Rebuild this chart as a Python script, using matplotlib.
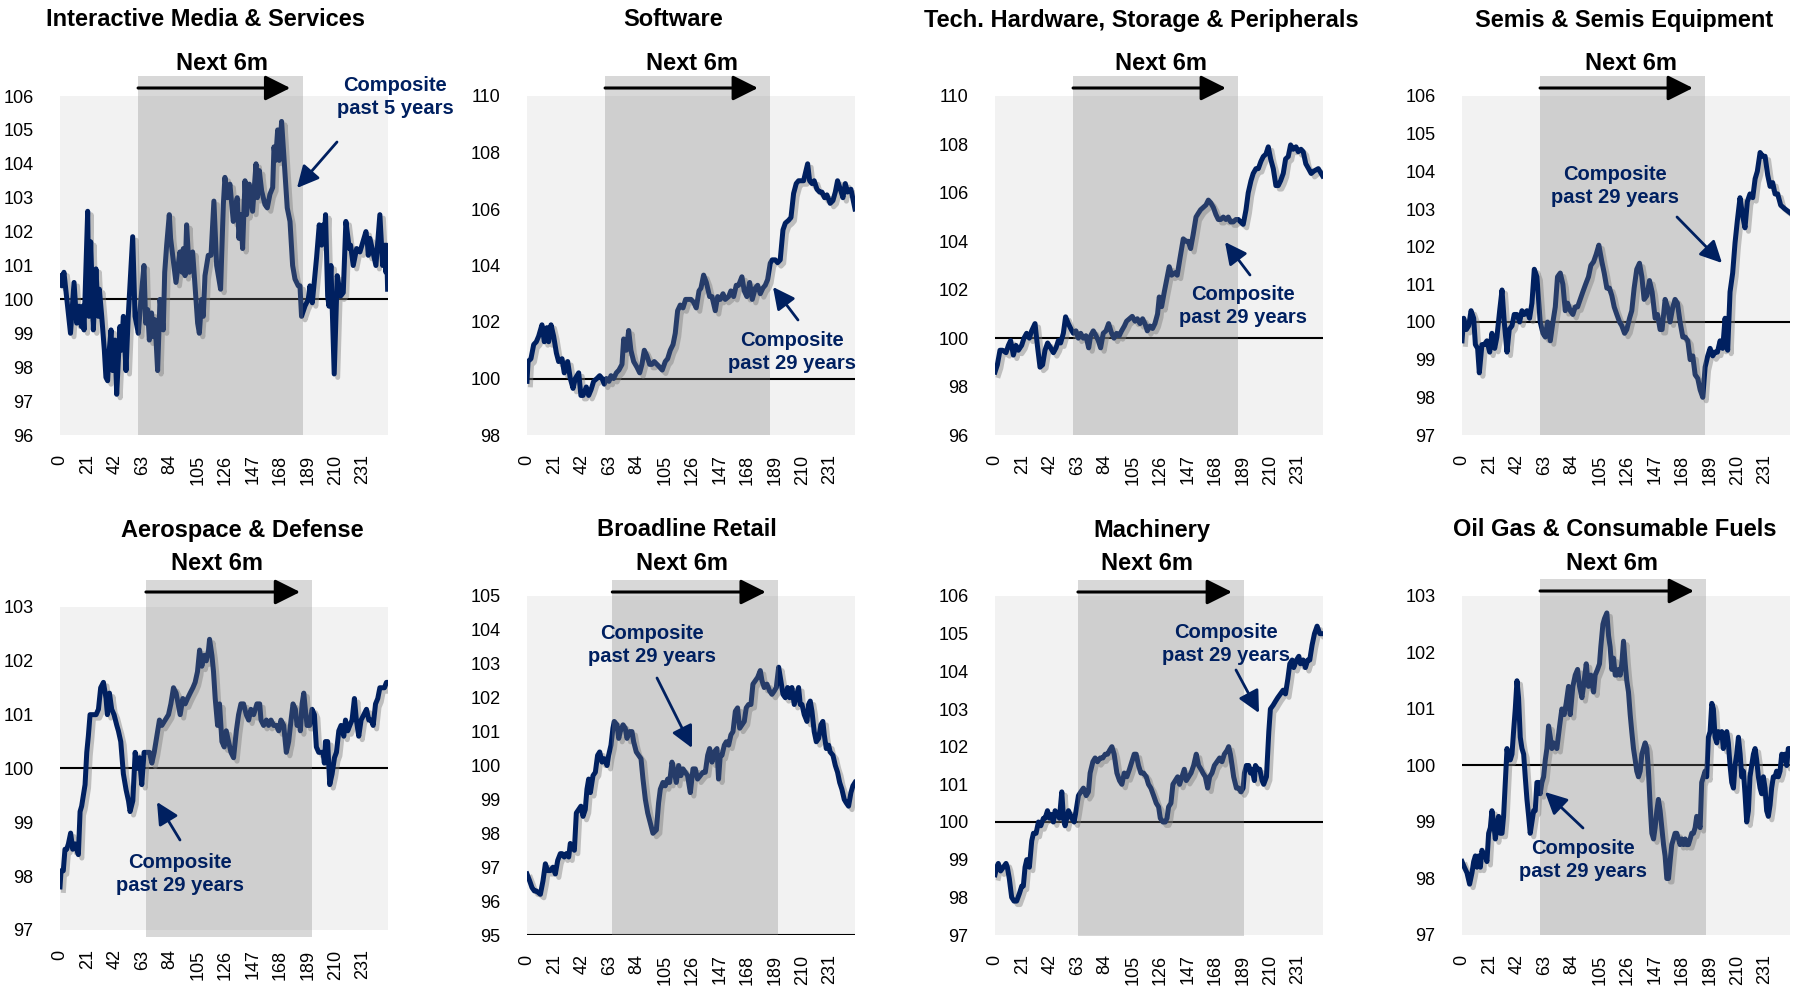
import matplotlib.pyplot as plt
import matplotlib.patheffects as pe
from matplotlib.patches import Rectangle
from matplotlib.transforms import blended_transform_factory

# ---- data (day index after signal, composite level) ----
titles = ['Interactive Media & Services', 'Software', 'Tech. Hardware, Storage & Peripherals',
          'Semis & Semis Equipment', 'Aerospace & Defense', 'Broadline Retail', 'Machinery',
          'Oil Gas & Consumable Fuels']
notes = ['Composite\npast 5 years'] + ['Composite\npast 29 years'] * 7
xticks = [0, 21, 42, 63, 84, 105, 126, 147, 168, 189, 210, 231]

ims_day = [0, 1.3, 3, 8, 10.7, 12.7, 14.5, 16.3, 17.3, 18.3, 21.1, 22.1, 23.4, 25.4, 27.4, 29.2, 30, 31.8, 33.8, 35,
           36.3, 37.3, 38.9, 40.1, 41.9, 43.2, 45.7, 46.7, 48.3, 50.3, 52, 55.4, 57.2, 59.7, 61.7, 64, 65.3, 66.8, 68.1, 69.8,
           71.1, 72.4, 74.4, 76.2, 78.7, 79.8, 81.3, 83.3, 84.3, 88.4, 91.4, 93, 94, 95.3, 96.5, 98.6, 101.1, 104.9, 106.2, 108,
           109.2, 110.5, 113, 115.1, 117.3, 119.4, 122.4, 124.5, 125.7, 127.5, 129.5, 132.1, 133.4, 135.1, 136.4, 137.7, 139.2, 141, 142.2, 144.3,
           146.8, 149.4, 150.4, 151.9, 153.7, 156.2, 158, 160, 162.1, 163.1, 164.3, 165.9, 167.1, 168.9, 170.7, 173.2, 175.3, 177.3, 179.1, 181.6,
           182.9, 184.1, 186.7, 189.2, 190.5, 192.3, 195.6, 197.6, 199.4, 200.7, 201.4, 202.4, 204, 205, 206.5, 209, 211.3, 213.9, 215.9, 217.9,
           220.5, 221.5, 223.5, 226.1, 228.6, 233.2, 234.2, 235, 236.2, 240.8, 242.6, 243.8, 245.9, 247.6, 248.4, 248.9, 249.7]
ims_val = [100.7, 100.4, 100.8, 99.0, 100.5, 99.3, 99.8, 99.2, 99.8, 99.1, 102.6, 99.5, 101.7, 99.1, 100.9, 99.5, 100.3, 99.5, 98.5, 97.7,
           97.6, 98.4, 99.1, 97.9, 98.8, 97.2, 99.2, 98.5, 99.5, 97.9, 99.5, 101.85, 99.5, 99.0, 100.0, 101.0, 99.3, 99.7, 98.8, 99.6,
           98.9, 99.4, 97.9, 100.0, 99.1, 100.8, 101.6, 102.5, 101.8, 100.5, 101.4, 100.8, 101.5, 100.7, 102.2, 100.8, 101.4, 99.3, 99.0, 100.0,
           99.5, 100.7, 101.3, 101.3, 102.9, 101.0, 100.3, 102.8, 103.6, 103.0, 103.4, 102.3, 102.7, 103.0, 101.8, 102.5, 101.5, 103.5, 102.5, 103.4,
           102.6, 104.0, 103.0, 103.8, 103.2, 102.8, 102.7, 103.1, 103.3, 104.5, 104.1, 105.0, 104.1, 105.25, 104.2, 102.7, 102.3, 101.0, 100.6, 100.4,
           100.4, 99.5, 99.8, 100.0, 100.4, 99.9, 101.25, 102.2, 101.6, 102.2, 101.7, 102.5, 100.1, 99.8, 101.0, 97.8, 100.7, 100.1, 100.2, 102.3,
           101.5, 101.6, 101.0, 101.5, 101.4, 102.0, 101.7, 101.3, 101.8, 101.0, 101.9, 102.5, 101.0, 101.6, 100.8, 101.6, 100.3]

sw_day = [0, 0.8, 3, 5.1, 7.1, 8.9, 11.4, 13.2, 15.2, 16.5, 18.3, 20.3, 22.4, 24.1, 26.7, 28.4, 31, 33, 35.1, 36.8,
          39.4, 41.1, 42.7, 45.2, 47, 48.8, 50.8, 53.3, 55.4, 57.2, 58.9, 60.5, 62.5, 64, 66, 68.1, 70.1, 72.4, 73.7, 75.7,
          77.5, 79.2, 81.3, 83.8, 85.9, 87.6, 89.4, 91.4, 93.5, 95.2, 97, 99.1, 101.1, 103.1, 105.4, 107.2, 109.2, 111.3, 113, 114.8,
          116.8, 118.9, 120.9, 123.2, 125, 127, 129, 131.1, 132.6, 134.6, 136.7, 139.2, 141, 143.5, 145.3, 147.3, 149.4, 151.1, 153.7, 155.4,
          157.5, 159.5, 161.3, 163.8, 165.6, 167.6, 169.7, 171.7, 174, 175.8, 177.8, 179.8, 181.6, 183.4, 185.4, 186.9, 189.2, 191, 193, 195.1,
          196.9, 199.4, 201.2, 203.2, 205.2, 207, 208.8, 210.8, 212.9, 213.9, 215.4, 217.2, 218.9, 221, 223, 224.8, 226.8, 228.6, 231.1, 233.2,
          235, 236.7, 238.8, 240.8, 242.6, 244.3, 246.9, 250]
sw_val = [99.9, 100.6, 100.7, 101.2, 101.3, 101.5, 101.9, 101.3, 101.8, 101.3, 101.9, 101.5, 100.9, 100.6, 100.7, 100.2, 100.6, 100.0, 99.65, 100.0,
          100.2, 99.4, 99.4, 99.7, 99.4, 99.6, 99.9, 100.0, 100.1, 100.0, 99.8, 100.0, 99.9, 100.1, 100.0, 100.2, 100.3, 100.5, 101.4, 101.0,
          101.7, 101.0, 100.6, 100.4, 100.2, 100.5, 101.0, 100.8, 100.5, 100.5, 100.6, 100.5, 100.4, 100.3, 100.6, 100.7, 101.0, 101.2, 101.6, 102.4,
          102.6, 102.5, 102.8, 102.8, 102.8, 102.7, 102.5, 103.1, 103.2, 103.66, 103.4, 102.9, 102.9, 102.4, 102.9, 102.8, 103.0, 102.8, 102.9, 103.1,
          102.9, 103.3, 103.3, 103.6, 103.1, 102.9, 103.4, 102.8, 103.2, 103.3, 103.0, 103.2, 103.3, 103.5, 104.08, 104.2, 104.2, 104.1, 104.2, 105.26,
          105.5, 105.6, 105.7, 106.55, 106.9, 107.0, 107.0, 107.0, 107.4, 107.6, 107.0, 106.9, 107.0, 106.7, 106.6, 106.6, 106.4, 106.5, 106.2, 106.3,
          106.6, 107.0, 106.7, 106.4, 106.9, 106.6, 106.7, 106.0]

hw_day = [0, 1.8, 3.8, 5.8, 8.4, 10.2, 11.9, 14, 16, 17.8, 20.3, 22.1, 24.1, 26.2, 27.9, 30.5, 32.3, 34.3, 36.3, 38.1,
          40.1, 42.4, 44.5, 46.5, 48.3, 50, 52.1, 53.8, 55.9, 57.7, 59.7, 61.7, 63.5, 65.3, 67.3, 69.3, 71.4, 72.9, 74.9, 77,
          78.7, 80.5, 82.5, 84.6, 86.6, 88.9, 90.7, 92.7, 94.7, 96.5, 98.6, 100.3, 102.4, 104.6, 106.7, 108.5, 110.5, 112.5, 114.3, 116.1,
          118.1, 120.1, 121.9, 123.9, 125.2, 127, 129, 130.8, 132.8, 134.6, 137.2, 138.9, 141, 143.5, 145.5, 147.3, 149.1, 151.1, 153.2, 154.9,
          156.7, 158.7, 160.8, 162.6, 164.3, 166.4, 168.4, 170.2, 172, 174, 176, 177.8, 179.6, 181.6, 183.6, 185.4, 187.2, 189.2, 191.3, 193,
          195.1, 196.8, 198.9, 200.7, 202.7, 204.5, 206.5, 208.3, 210.1, 212.1, 214.1, 215.9, 217.7, 219.7, 221.5, 223.5, 225.3, 227.3, 229.4, 231.1,
          233.2, 234.9, 236.9, 239, 241, 243.1, 246.4, 249.7]
hw_val = [98.6, 98.9, 99.5, 99.5, 99.4, 99.7, 99.9, 99.3, 99.7, 99.5, 99.7, 100.0, 100.2, 100.0, 100.3, 100.6, 99.7, 98.8, 98.9, 99.5,
          99.8, 99.6, 99.4, 99.6, 99.9, 99.8, 100.2, 100.88, 100.6, 100.4, 100.2, 100.3, 100.0, 100.2, 100.0, 100.1, 99.6, 100.1, 100.3, 100.1,
          99.9, 99.6, 100.2, 100.3, 100.6, 100.2, 100.0, 100.2, 100.1, 100.3, 100.5, 100.7, 100.8, 100.9, 100.7, 100.8, 100.6, 100.8, 100.6, 100.3,
          100.5, 100.4, 100.6, 101.0, 101.7, 101.3, 101.9, 102.4, 102.95, 102.6, 102.7, 102.6, 103.3, 104.1, 104.0, 104.0, 103.7, 104.3, 105.0, 105.15,
          105.3, 105.4, 105.5, 105.7, 105.6, 105.4, 105.1, 104.9, 104.9, 105.0, 104.9, 105.0, 104.8, 104.8, 104.9, 104.9, 104.8, 104.7, 105.3, 106.0,
          106.5, 106.8, 107.0, 107.0, 107.3, 107.5, 107.6, 107.9, 107.4, 107.0, 106.3, 106.3, 106.5, 106.8, 107.4, 107.5, 107.98, 107.8, 107.9, 107.7,
          107.8, 107.7, 107.2, 107.0, 106.8, 106.9, 107.0, 106.7]

semi_day = [0, 1.3, 3.3, 5.1, 6.9, 8.9, 10.2, 11.9, 13.2, 15.2, 17, 19, 21.1, 22.8, 24.9, 26.6, 28.7, 30.5, 32.2, 34.3,
            36, 38.1, 39.8, 41.9, 43.9, 45.7, 47.5, 49.5, 51.5, 53.3, 55.1, 57.1, 59.6, 61.7, 63.5, 65.2, 67.3, 69.3, 71.1, 72.8,
            74.9, 76.9, 78.7, 80.5, 82.5, 84.5, 86.3, 88.1, 90.1, 92.1, 94.2, 96.4, 98.2, 100.3, 102.3, 104.3, 106.6, 108.4, 110.4, 112.4,
            114.2, 116, 118, 120.1, 121.8, 123.9, 125.6, 127.7, 129.4, 131.2, 133.2, 135.3, 137.1, 138.8, 140.9, 142.9, 144.9, 147.2, 149, 151,
            152.5, 154.8, 156.6, 158.6, 160.7, 162.4, 164.2, 166.2, 168.3, 170.1, 172.1, 173.9, 175.9, 177.7, 179.7, 181.5, 183.5, 185.3, 187.3, 189.1,
            191.1, 192.9, 194.7, 196.7, 198.7, 200.5, 202.5, 204.3, 206.3, 208.1, 209.9, 211.9, 214, 215.7, 217.5, 219.5, 221.6, 223.4, 225.1, 227.2,
            229.2, 231, 233, 234.8, 236.8, 238.6, 240.6, 242.9, 246.2, 250]
semi_val = [99.5, 100.1, 99.8, 99.9, 100.3, 100.1, 99.4, 99.3, 98.65, 99.4, 99.4, 99.5, 99.2, 99.7, 99.3, 99.6, 100.3, 100.85, 100.0, 99.2,
            99.8, 99.9, 100.2, 100.2, 100.0, 100.3, 100.2, 100.3, 100.1, 100.5, 101.4, 101.2, 100.0, 99.7, 99.6, 100.0, 99.5, 100.0, 100.4, 101.2,
            101.3, 101.0, 100.3, 100.5, 100.3, 100.2, 100.4, 100.4, 100.6, 100.8, 101.0, 101.2, 101.5, 101.6, 101.8, 102.04, 101.6, 101.3, 100.9, 100.9,
            100.7, 100.4, 100.2, 100.0, 99.9, 99.7, 99.8, 100.1, 100.3, 100.9, 101.4, 101.56, 101.2, 100.6, 100.7, 101.1, 100.8, 100.1, 100.2, 99.8,
            99.8, 100.6, 100.4, 100.0, 100.4, 100.6, 100.5, 100.0, 99.6, 99.6, 99.5, 99.0, 99.1, 98.6, 98.5, 98.2, 98.0, 98.8, 99.1, 99.3,
            99.1, 99.2, 99.2, 99.5, 99.3, 100.1, 99.25, 100.8, 101.3, 102.1, 102.7, 103.3, 102.8, 102.5, 103.2, 103.4, 103.3, 103.8, 104.0, 104.5,
            104.4, 104.4, 103.9, 103.6, 103.7, 103.4, 103.4, 103.1, 103.0, 102.9]

aero_day = [0, 0.8, 2.5, 3.8, 5.1, 6.4, 8.1, 9.7, 11.5, 14, 15.3, 16.5, 19.1, 20.4, 21.6, 22.9, 24.9, 27.5, 29.3, 31,
            33.1, 35.1, 36.1, 37.7, 39.4, 41.2, 43.3, 44.5, 46.3, 48.3, 50.4, 52.2, 53.4, 55.5, 57.3, 58.5, 60.6, 62.3, 64.1, 66.2,
            68.2, 70, 71.8, 73.8, 75.8, 77.6, 80.2, 82.7, 84.5, 86.5, 88.5, 91.6, 93.6, 95.4, 97.2, 99.2, 101.3, 103, 104.8, 106.4,
            108.1, 109.9, 111.5, 113.2, 114, 115.8, 117, 118.3, 120.1, 121.6, 123.4, 125.2, 126.7, 128.5, 130.3, 132.3, 134.4, 136.1, 137.9, 139.9,
            142, 143.8, 145.5, 147.6, 150.1, 152.2, 153.2, 155.2, 157.3, 159, 160.8, 162.8, 164.9, 166.7, 168.4, 170.5, 172.5, 174.3, 176.1, 177.6,
            179.4, 180.7, 182.2, 183.2, 184.5, 185.8, 187, 188.3, 190.3, 192.1, 193.9, 195.4, 197.2, 199, 200.5, 201.5, 202.3, 204, 205.6, 207.4,
            209.2, 210.7, 212.5, 214.2, 216.3, 217.6, 219.3, 220.9, 222.6, 224.4, 225.9, 227.7, 229.5, 231.6, 233.6, 235.4, 237.2, 238.7, 240.5, 242.2,
            243.8, 245.5, 247.3, 248.8, 250]
aero_val = [97.8, 98.1, 98.1, 98.5, 98.5, 98.6, 98.8, 98.5, 98.6, 98.4, 99.2, 99.3, 99.7, 100.3, 100.6, 101.0, 101.0, 101.0, 101.1, 101.5,
            101.6, 101.3, 101.0, 101.4, 101.1, 101.0, 100.8, 100.7, 100.5, 99.9, 99.6, 99.4, 99.2, 99.4, 100.3, 100.0, 100.2, 99.7, 100.3, 100.3,
            100.3, 100.1, 100.3, 100.6, 100.9, 100.8, 100.9, 101.0, 101.2, 101.5, 101.4, 101.0, 101.3, 101.2, 101.3, 101.4, 101.5, 101.6, 101.8, 102.2,
            101.9, 102.1, 102.0, 102.2, 102.4, 102.1, 101.8, 101.3, 100.8, 101.2, 100.5, 100.4, 100.7, 100.5, 100.3, 100.2, 100.7, 101.0, 101.2, 101.2,
            101.0, 100.9, 101.1, 101.0, 101.2, 101.2, 100.9, 100.8, 100.9, 100.8, 100.9, 100.8, 100.8, 100.7, 100.9, 100.8, 100.3, 100.5, 100.9, 101.2,
            101.1, 100.8, 100.9, 100.7, 101.2, 101.4, 101.1, 100.8, 100.8, 101.1, 101.0, 100.4, 100.3, 100.3, 100.3, 100.1, 100.5, 100.5, 99.7, 99.9,
            100.2, 100.3, 100.7, 100.8, 100.6, 100.9, 100.7, 100.8, 100.9, 101.3, 100.9, 100.6, 100.9, 101.0, 101.1, 100.9, 100.9, 100.8, 101.2, 101.3,
            101.5, 101.5, 101.5, 101.6, 101.6]

retail_day = [0, 2, 3.8, 5.6, 7.1, 10.2, 12.2, 14, 15.7, 17.8, 19.8, 21.6, 23.4, 25.4, 26.7, 28.4, 29.9, 31.8, 33, 34.3,
              36.1, 37.6, 39.4, 41.1, 42.7, 44.4, 45.7, 47, 48.3, 50.3, 52.1, 53.8, 55.4, 57.2, 58.9, 61, 62.2, 64, 65.5, 66.5,
              68.6, 69.9, 71.1, 73.2, 74.9, 76.2, 78.2, 80, 81.3, 83.3, 85.1, 86.9, 88.4, 90.2, 92, 94, 96, 98.6, 100.3, 101.6,
              103.6, 105.4, 107.2, 108.7, 110.5, 112.3, 113.8, 115.6, 117.3, 118.9, 120.7, 122.4, 124.5, 126.5, 128.3, 130, 132.1, 134.1, 135.9, 137.7,
              139.2, 141, 142.7, 144.8, 146, 147.3, 148.6, 150.4, 151.9, 153.7, 155.4, 157, 158.8, 160.5, 162.1, 163.8, 165.6, 167.1, 168.9, 170.7,
              172.2, 174, 175.8, 177.8, 179.1, 180.8, 182.9, 184.9, 186.7, 188.5, 190, 191.8, 193.5, 195.1, 196.9, 198.6, 200.2, 201.9, 203.7, 205.7,
              207, 208.3, 209.6, 211.3, 213.4, 214.6, 215.9, 217.2, 218.9, 220.5, 222.3, 224, 225.5, 226.6, 228.1, 229.9, 231.1, 233.2, 235, 236.7,
              238.3, 240, 241.8, 243.3, 245.1, 246.9, 248.4, 250]
retail_val = [96.8, 96.6, 96.4, 96.3, 96.3, 96.2, 96.6, 97.1, 96.9, 96.9, 97.0, 96.8, 97.2, 97.4, 97.4, 97.3, 97.4, 97.3, 97.7, 97.6,
              97.5, 98.6, 98.7, 98.8, 98.5, 98.7, 99.3, 99.6, 99.2, 99.7, 99.8, 100.3, 100.4, 100.1, 100.2, 100.0, 100.3, 100.6, 101.1, 101.3,
              101.2, 100.8, 101.0, 101.2, 101.1, 100.8, 101.0, 101.0, 100.7, 100.4, 100.3, 100.2, 99.6, 99.0, 98.6, 98.3, 98.0, 98.1, 98.9, 99.3,
              99.5, 99.4, 99.6, 99.5, 100.1, 99.8, 99.5, 100.0, 99.7, 99.9, 99.8, 99.7, 99.2, 99.9, 99.9, 99.6, 99.7, 99.8, 99.8, 100.3,
              100.5, 100.1, 100.4, 100.5, 99.6, 100.3, 100.3, 100.6, 100.7, 100.6, 100.9, 101.0, 101.6, 101.7, 101.1, 101.2, 101.3, 101.7, 101.8, 101.8,
              102.4, 102.5, 102.6, 102.8, 102.5, 102.3, 102.4, 102.2, 102.1, 102.2, 102.3, 102.9, 102.5, 102.1, 102.0, 102.3, 102.0, 102.3, 101.8, 102.1,
              102.3, 101.8, 101.8, 101.5, 101.3, 101.8, 101.9, 101.6, 101.0, 100.7, 100.8, 101.2, 101.3, 100.9, 100.5, 100.6, 100.4, 100.3, 100.0, 99.8,
              99.5, 99.3, 99.0, 98.9, 98.8, 99.2, 99.4, 99.5]

mach_day = [0, 1.3, 2.5, 4.3, 6.4, 8.4, 9.4, 10.9, 12.7, 14.5, 16.5, 18.6, 20.4, 21.6, 22.9, 24.2, 26.2, 28, 29.3, 31.3,
            33.1, 34.9, 36.9, 38.2, 40, 41.5, 43.3, 44.5, 45.8, 47.6, 49.1, 50.9, 52.2, 53.4, 54.7, 56, 57.3, 58.5, 60.3, 61.8,
            63.6, 65.4, 67.4, 69.5, 71.2, 72.5, 74.6, 76.3, 78.1, 80.2, 82.2, 84, 85.8, 87.3, 89.1, 90.8, 92.9, 94.9, 96.7, 98.5,
            100.5, 102.5, 104.3, 106.1, 107.6, 109.4, 111.2, 113.2, 115.3, 117, 118.8, 120.9, 122.9, 124.7, 126, 128, 129.8, 131.1, 132.3, 134.1,
            135.6, 137.4, 139.2, 140.7, 142.5, 144.3, 145.8, 147.6, 149.4, 151.4, 153.4, 155.2, 157, 158.5, 160.3, 162.1, 163.6, 165.4, 167.2, 169.2,
            171.2, 173, 174.8, 176.8, 178.1, 179.4, 180.7, 181.9, 184, 185.8, 187.5, 189.1, 190.1, 191.6, 193.4, 194.7, 195.9, 197.7, 198.5, 200.3,
            201.8, 203.6, 204.8, 206.9, 208.7, 209.9, 212, 213.7, 215.5, 217.6, 219.6, 221.4, 223.2, 224.7, 226.5, 227.7, 229.8, 231.6, 232.8, 234.9,
            236.6, 238.4, 239.9, 241.7, 243.5, 245.5, 247.6, 250]
mach_val = [98.6, 98.8, 98.9, 98.7, 98.8, 98.9, 98.8, 98.5, 98.0, 97.9, 97.9, 98.1, 98.3, 98.3, 98.8, 99.0, 98.8, 99.5, 99.7, 99.7,
            100.0, 99.9, 100.1, 100.1, 100.3, 100.1, 100.2, 100.0, 100.3, 100.2, 100.1, 100.8, 100.1, 99.9, 100.1, 100.3, 100.2, 100.1, 100.0, 100.3,
            100.7, 100.8, 100.9, 100.7, 100.8, 101.3, 101.6, 101.7, 101.6, 101.7, 101.7, 101.8, 101.8, 101.9, 102.0, 101.8, 101.3, 101.1, 101.0, 101.3,
            101.2, 101.4, 101.6, 101.8, 101.8, 101.5, 101.3, 101.3, 101.2, 101.0, 100.9, 100.7, 100.5, 100.4, 100.1, 100.0, 100.0, 100.1, 100.4, 100.5,
            101.0, 101.1, 101.2, 101.0, 101.2, 101.4, 101.1, 101.2, 101.3, 101.5, 101.8, 101.5, 101.4, 101.3, 101.2, 100.9, 101.2, 101.3, 101.5, 101.6,
            101.7, 101.6, 101.8, 101.9, 102.0, 101.8, 101.5, 101.2, 100.9, 100.9, 100.8, 100.9, 101.3, 101.5, 101.5, 101.3, 101.4, 101.1, 101.5, 101.4,
            101.4, 101.1, 101.0, 101.2, 102.4, 103.0, 103.1, 103.2, 103.3, 103.4, 103.5, 103.4, 103.8, 104.2, 104.3, 104.1, 104.3, 104.4, 104.2, 104.3,
            104.1, 104.3, 104.3, 104.7, 105.0, 105.2, 105.0, 105.0]

oil_day = [0, 1.8, 3.8, 5.8, 7.6, 8.9, 10.2, 11.4, 12.7, 14, 15.2, 16.5, 17.8, 19, 20.3, 21.6, 22.8, 24.1, 25.4, 26.6,
           27.9, 29.2, 30.5, 31.7, 33, 34.3, 35.5, 36.8, 38.1, 39.3, 40.6, 41.9, 43.1, 44.4, 45.7, 47, 48.2, 49.5, 50.8, 52,
           53.3, 54.6, 55.8, 57.1, 58.4, 59.6, 60.9, 62.2, 63.5, 64.7, 66, 67.3, 68.5, 69.8,
           72.3, 74.4, 76.1, 77.9, 79.4, 81.2, 82.5, 84.5, 86.3, 88.1, 89.6, 91.4, 92.6, 94.7, 96.4, 98.2, 100.3,
           101.5, 103.3, 104.8, 105.8, 107.4, 108.6, 110.4, 111.7, 112.9, 114.2, 115.5, 116.8, 118, 119.3, 120.6, 121.8, 123.1, 124.4, 125.6,
           126.9, 128.2, 129.4, 130.7, 132.0, 133.2, 134.5, 135.8, 137.1, 138.3, 139.6, 140.9, 142.1, 143.4, 144.7, 146.0, 147.2, 148.5, 149.7, 151.0,
           152.3, 153.6, 154.8, 156.1, 157.4, 158.6, 159.9, 161.2, 162.4, 163.7, 165.0, 166.2, 167.5, 168.8, 170.1, 171.3, 172.6, 173.9, 175.1, 176.4,
           177.7, 178.9, 180.2, 181.5, 182.7, 184.0, 185.3, 186.5, 187.8, 189.1, 190.4, 191.6, 192.9, 194.2, 195.4, 196.7, 198.0, 199.2, 200.5, 201.8,
           203.0, 204.3, 205.6, 206.9, 208.1, 209.4, 210.7, 212.0, 213.2, 214.5, 215.7, 217.0, 218.3, 219.5, 220.8, 222.1, 223.4, 224.6, 225.9, 227.2,
           228.4, 229.7, 231.0, 232.2, 233.5, 234.8, 236.0, 237.3, 238.6, 239.8, 241.1, 242.4, 243.7, 244.9, 246.2, 247.5, 248.7, 250.0]
oil_val = [98.3, 98.2, 98.1, 97.9, 98.1, 98.3, 98.4, 98.2, 98.4, 98.2, 98.5, 98.4, 98.4, 98.3, 98.8, 98.9, 99.2, 99.0, 98.7, 98.9,
           99.1, 98.8, 98.8, 99.1, 99.7, 100.3, 100.1, 100.1, 100.2, 100.6, 101.0, 101.5, 101.2, 100.5, 100.3, 100.2, 99.8, 99.4, 99.1, 98.8,
           99.0, 99.2, 99.2, 99.7, 99.7, 99.5, 99.7, 99.8, 100.1, 100.3, 100.7, 100.5, 100.3, 100.4, 100.3, 100.7, 101.0, 100.9, 101.1, 101.4,
           100.9, 101.4, 101.6, 101.7, 101.4, 101.2, 101.4, 101.8, 101.4, 101.6, 101.3, 101.6, 101.7, 101.8, 102.1, 102.5, 102.6, 102.7, 102.3, 102.1,
           101.7, 101.9, 101.6, 101.6, 101.7, 101.6, 101.8, 102.2, 101.8, 101.5, 101.3, 100.9, 100.6, 100.3, 100.1, 99.9, 99.8, 99.9, 100.2, 100.3,
           100.4, 100.3, 99.9, 99.3, 98.8, 98.7, 98.9, 99.2, 99.4, 99.2, 98.9, 98.6, 98.4, 98.0, 98.0, 98.3, 98.6, 98.7, 98.8, 98.8,
           98.7, 98.6, 98.7, 98.6, 98.7, 98.6, 98.6, 98.7, 98.8, 98.8, 98.9, 99.1, 99.0, 98.9, 99.7, 99.8, 99.9, 99.8, 100.5, 100.6,
           101.1, 101.0, 100.5, 100.4, 100.6, 100.5, 100.6, 100.3, 100.5, 100.6, 100.4, 100.0, 99.7, 99.6, 100.0, 100.2, 100.5, 100.2, 99.8, 99.9,
           99.5, 99.0, 99.2, 99.8, 100.0, 100.2, 100.3, 100.1, 99.8, 99.6, 99.5, 99.8, 99.6, 99.2, 99.1, 99.3, 99.6, 99.8, 99.8, 99.9,
           99.8, 99.9, 100.2, 100.1, 100.2, 100.0, 100.3, 100.3]

days = [ims_day, sw_day, hw_day, semi_day, aero_day, retail_day, mach_day, oil_day]
vals = [ims_val, sw_val, hw_val, semi_val, aero_val, retail_val, mach_val, oil_val]
ylims = [(96, 106), (98, 110), (96, 110), (97, 106), (97, 103), (95, 105), (97, 106), (97, 103)]
ysteps = [1, 2, 2, 1, 1, 1, 1, 1]
baselines = [100, 100, 100, 100, 100, 95, 100, 100]
# the "next 6m" shaded window (start, end) in days, and where its arrow stops
windows = [(59.5, 185.5), (59.5, 185.5), (59.5, 185.5), (59.5, 185.5),
           (65.5, 192), (65, 191.5), (63.2, 189.7), (59.5, 185.7)]
arrow_end = [175.5, 176, 176, 176, 183, 182, 180.6, 176.8]

# ---- layout (pixels of the 1805x986 canvas) ----
W, H = 1805, 986
navy = '#002060'
narrow = ['Liberation Sans Narrow', 'Liberation Sans', 'DejaVu Sans']
regular = ['Liberation Sans', 'DejaVu Sans']

axes_px = [(60, 96, 388, 435), (527, 96, 855, 435), (995, 96, 1323, 435), (1462, 96, 1790, 435),
           (60, 607, 388, 930), (527, 596, 855, 935), (995, 596, 1323, 935), (1462, 596, 1790, 935)]
shade_px = [(76, 435), (76, 435), (76, 435), (76, 435), (580, 937), (580, 935), (580, 936), (579, 935)]
title_px = [(205, 20), (673, 20), (1141, 20), (1624, 20), (242, 530), (687, 530), (1152, 530), (1615, 530)]
next_px = [(222, 63), (692, 63), (1161, 63), (1631, 63), (217, 563), (682, 563), (1147, 563), (1612, 563)]
note_px = [(395, 97), (792, 352), (1243, 306), (1615, 186), (180, 874), (652, 645), (1226, 644), (1583, 860)]
note_arrow_px = [((337, 142), (297, 188)), ((798, 320), (773, 287)), ((1250, 275), (1225, 242)),
                 ((1677, 217), (1722, 263)), ((180, 840), (157, 802)), ((657, 678), (692, 748)),
                 ((1236, 670), (1259, 713)), ((1583, 828), (1545, 792))]


def ff(px, py):
    return px / W, 1 - py / H


fig = plt.figure(figsize=(W / 100, H / 100), dpi=100)

for i in range(8):
    l, t, r, b = axes_px[i]
    ax = fig.add_axes([l / W, 1 - b / H, (r - l) / W, (b - t) / H])
    ax.set_facecolor('#f2f2f2')
    for s in ax.spines.values():
        s.set_visible(False)

    lo, hi = ylims[i]
    ax.set_xlim(0, 250)
    ax.set_ylim(lo, hi)
    ax.set_yticks(range(lo, hi + 1, ysteps[i]))
    ax.set_xticks(xticks)
    ax.set_xticklabels([str(x) for x in xticks], rotation=90, va='top', ha='center')
    ax.tick_params(axis='both', length=0, labelsize=13, colors='black')
    ax.tick_params(axis='y', pad=19)
    ax.tick_params(axis='x', pad=14)
    for lab in ax.get_xticklabels() + ax.get_yticklabels():
        lab.set_family(regular)

    ax.axhline(baselines[i], color='black', lw=1.5, zorder=1.5)
    ax.plot(days[i], vals[i], color=navy, lw=3.6, solid_joinstyle='round', zorder=2,
            path_effects=[pe.SimpleLineShadow(offset=(2.5, -2.5), shadow_color='#808080', alpha=0.45),
                          pe.Normal()])

    # shaded window, reaching a little above the plot area
    h = b - t
    y0 = (b - shade_px[i][1]) / h
    y1 = (b - shade_px[i][0]) / h
    x0, x1 = windows[i]
    trans = blended_transform_factory(ax.transData, ax.transAxes)
    ax.add_patch(Rectangle((x0, y0), x1 - x0, y1 - y0, transform=trans,
                           facecolor='#7f7f7f', alpha=0.3, edgecolor='none', clip_on=False, zorder=3))
    ya = (b - (shade_px[i][0] + 12)) / h
    ax.annotate('', xy=(arrow_end[i], ya), xytext=(x0, ya), xycoords=trans, textcoords=trans,
                arrowprops=dict(arrowstyle='-|>,head_length=0.7,head_width=0.35', color='black', lw=2.2,
                                shrinkA=0, shrinkB=0, mutation_scale=22),
                annotation_clip=False, zorder=4)

    fig.text(*ff(*title_px[i]), titles[i], ha='center', va='center', fontsize=17,
             fontweight='bold', family=narrow)
    fig.text(*ff(*next_px[i]), 'Next 6m', ha='center', va='center', fontsize=17,
             fontweight='bold', family=narrow)
    fig.text(*ff(*note_px[i]), notes[i], ha='center', va='center', fontsize=14.5,
             fontweight='bold', color=navy, family=narrow, linespacing=1.25, zorder=6)
    (tx, ty), (hx, hy) = note_arrow_px[i]
    ax.annotate('', xy=ff(hx, hy), xytext=ff(tx, ty), xycoords='figure fraction',
                textcoords='figure fraction',
                arrowprops=dict(arrowstyle='-|>,head_length=0.6,head_width=0.3', color=navy, lw=2,
                                shrinkA=0, shrinkB=0, mutation_scale=22),
                annotation_clip=False, zorder=6)

fig.savefig('out.png', dpi=100, facecolor='white')
